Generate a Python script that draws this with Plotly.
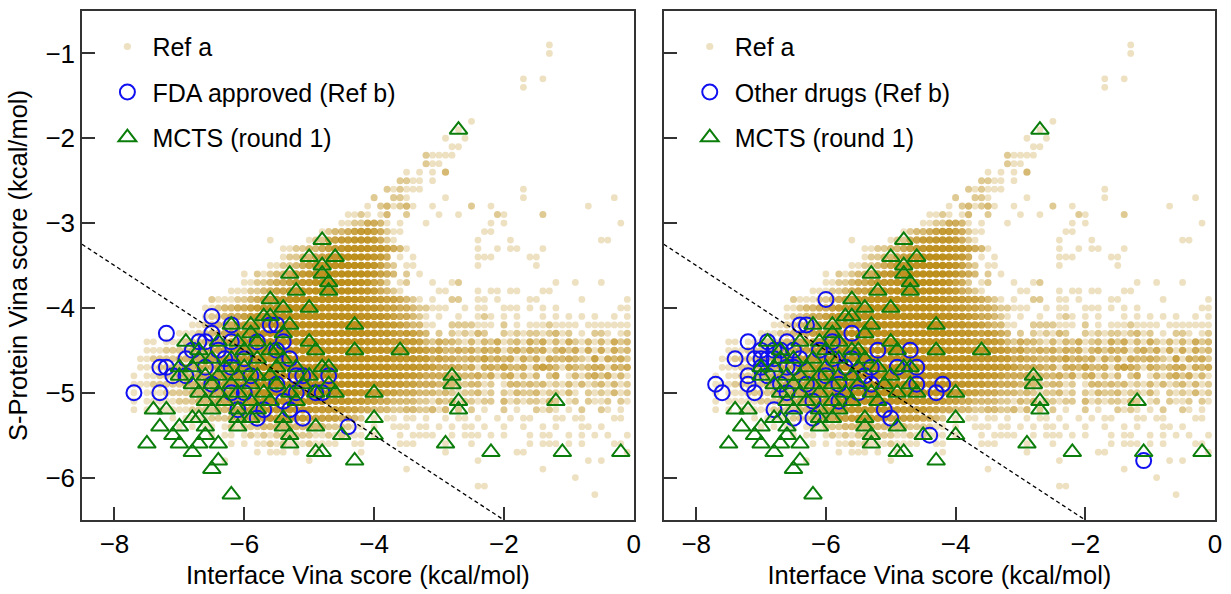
import plotly.graph_objects as go

# ---------------- data ----------------
# Ref a: number of overlapping points on the 0.1 x 0.1 grid.
# Each row string gives one character per x cell, starting at x = -8.5
# (groups of ten cells; '.' = no point, '9' = nine or more).
REF_A_X0 = -8.5
REF_A_STEP = 0.1
E = ".........."
REF_A_ROWS = {
    -0.9: [E, E, E, E, E, E, E, "..1.......", "....."],
    -1.0: [E, E, E, E, E, E, E, "..1.......", "....."],
    -1.3: [E, E, E, E, E, E, "........1.", ".1........", "....."],
    -1.4: [E, E, E, E, E, E, "........1.", E, "....."],
    -1.8: [E, E, E, E, E, E, "1.........", E, "....."],
    -1.9: [E, E, E, E, E, "........1.", E, E, "....."],
    -2.0: [E, E, E, E, E, "......1..1", E, E, "....."],
    -2.1: [E, E, E, E, E, ".......11.", E, E, "....."],
    -2.2: [E, E, E, E, E, "...21111..", E, E, "....."],
    -2.3: [E, E, E, E, E, "...211....", E, E, "....."],
    -2.4: [E, E, E, E, E, "1.1.1.3...", E, E, "....."],
    -2.5: [E, E, E, E, ".........2", "211.1.....", E, E, "....."],
    -2.6: [E, E, E, E, ".......212", "111.......", "........1.", E, "....."],
    -2.7: [E, E, E, E, ".....2..22", "1.....1...", "........1.", E, "..1.."],
    -2.8: [E, E, E, E, "....1.2312", "31..1.....", "2..1......", "........1.", "....."],
    -2.9: [E, E, E, E, ".1121.13..", "2....1..1.", "....21....", ".2........", "....."],
    -3.0: [E, E, E, E, "11224431.1", "...1......", "...1.1....", E, "...1."],
    -3.1: [E, E, E, ".......123", "3456654211", E, "..11......", E, "....."],
    -3.2: [E, E, ".........1", ".....12245", "667776421.", E, ".1....1...", E, "11..."],
    -3.3: [E, E, E, ".112233456", "7888877543", "1.........", ".1..1.11..", ".1........", "....."],
    -3.4: [E, E, E, ".122334567", "89998764.1", ".1........", ".111.....1", "1.........", "....."],
    -3.5: [E, E, ".........1", "1223456778", "999987532.", "11........", ".1........", "1.........", "....."],
    -3.6: [E, E, ".....1.212", "3345677889", "999987543.", "2.1.......", E, E, "....."],
    -3.7: [E, E, ".....11223", "4456778899", "99987542.1", "2...1..12.", E, "...1..1...", "1...."],
    -3.8: [E, E, "...1112234", "5567889999", "9998764321", ".....11...", ".1.11.11..", ".11.......", "....."],
    -3.9: [E, E, "2111223456", "6789999999", "9998776554", "321.1..22.", ".11.1....1", "1......1..", "....1"],
    -4.0: [E, ".........1", "1233445677", "8899999999", "9998776554", "4322111..1", ".11..111.1", ".1.1......", "...11"],
    -4.1: [E, ".........1", "2234456778", "8999999999", "9998877654", "4321.1..1.", ".121.1.1..", ".1.1.1.1.1", "..1.1"],
    -4.2: [E, ".......112", "2334566788", "9999999999", "9998877665", "43311..222", "2111.2.1.1", "1121111.11", "11111"],
    -4.3: [E, ".....11122", "3345667889", "9999999999", "9999887765", "6543.2.212", "132..21212", "212312.1.2", "21.12"],
    -4.4: [E, "11.1112223", "3455677889", "9999999999", "9999887766", "6653243321", "3132412314", "2413142131", "31423"],
    -4.5: [E, "1112222333", "4556677899", "9999999999", "9999988777", "7765453343", "4243413424", "3413424141", "41423"],
    -4.6: [".........1", "1222233344", "5566778899", "9999999999", "9999988877", "7766454433", "4353434142", "4143343215", "14342"],
    -4.7: [".........1", "1122233344", "4566778899", "9999999999", "9999988877", "7766544443", "4144353341", "4543143234", "41434"],
    -4.8: ["........1.", "1122233344", "4566778899", "9999999999", "9999887777", "6654444333", "3424134131", "3.24.13134", "24131"],
    -4.9: ["........11", "1222223334", "4456677889", "9999999999", "9998877766", "5544433322", "3312.13323", "2312131312", "31312"],
    -5.0: ["........1.", "1112222333", "4455667788", "9999999998", "8887766554", "4433323212", "2312.21322", "3122131.21", "21312"],
    -5.1: ["........1.", "1111122233", "3445566778", "8888888877", "7766554433", "3322132312", "2122.31212", "2132.12.21", "12.21"],
    -5.2: ["........1.", "1.11111222", "2334455667", "7777776666", "6554433322", "3322313.2.", "2.1..2.1..", "2121.1.2..", "21.1."],
    -5.3: [E, "....1.1111", "2223344556", "6666655555", "4432.1.11.", "11.1..1.11", ".1..1.1.11", "...11.11..", "..11."],
    -5.4: [E, ".....1.1.1", "1.12122233", "3333333322", "2211.1..11", "1.11.1.1.1", "1.1..1..1.", ".1.1...11.", "1...."],
    -5.5: [E, E, "1.11.12121", "2222221121", "2111.1...1", ".1111..1.1", "11.1.1...1", ".11..1.1.1", ".1..1"],
    -5.6: [E, E, "...1.1.112", "1211121111", "..11.....1", "11....1...", "1........1", ".111.1.1..", "..11."],
    -5.7: [E, E, ".......1.1", "11.1..1...", "...1......", "......1...", ".......11.", E, "....1"],
    -5.8: [E, E, "..1.......", ".....1....", E, E, ".1........", "........1.", "1...."],
    -5.9: [E, E, E, E, E, "1.........", E, ".1........", "....."],
    -6.0: [E, E, E, E, E, E, E, "......1...", "....."],
    -6.1: [E, E, E, E, E, E, ".11.......", E, "....."],
    -6.2: [E, E, E, E, E, E, E, ".........1", "....."],
}

MCTS_X = [
    -2.7, -4.8, -5.0, -4.8, -4.6, -4.8, -5.3, -4.7, -4.7, -5.2, -5.6, -5.4, -5.0,
    -5.7, -5.6, -6.2, -5.3, -5.9, -5.9, -5.4, -6.9, -6.4, -5.8, -5.0, -6.1, -4.9,
    -6.7, -6.0, -5.6, -5.5, -6.7, -6.5, -6.2, -5.8, -5.4, -7.0, -4.7, -6.8, -6.3,
    -6.0, -5.5, -5.2, -7.0, -6.6, -6.4, -6.1, -5.8, -5.6, -5.0, -6.8, -6.5, -6.2,
    -5.9, -5.5, -5.1, -4.7, -6.7, -6.4, -6.1, -5.7, -5.3, -4.9, -6.6, -6.3, -5.9,
    -5.6, -5.2, -6.5, -6.1, -5.8, -6.8, -6.7, -6.1, -5.9, -5.4, -7.0, -6.6, -6.1,
    -5.4, -7.4, -7.2, -7.3, -7.5, -7.1, -7.0, -6.8, -6.7, -6.6, -6.4, -6.4, -6.5,
    -6.2, -5.3, -5.3, -4.9, -4.8, -4.9, -4.5, -4.6, -4.3, -4.3, -4.3, -3.6, -4.0,
    -4.0, -4.0, -2.9, -2.8, -2.8, -2.7, -2.7, -2.2, -1.2, -1.1, -0.2, -4.8,
]
MCTS_Y = [
    -1.9, -3.2, -3.4, -3.5, -3.4, -3.6, -3.6, -3.7, -3.8, -3.8, -3.9, -4.0, -4.0,
    -4.1, -4.1, -4.2, -4.2, -4.2, -4.3, -4.3, -4.4, -4.4, -4.4, -4.4, -4.4, -4.5,
    -4.5, -4.5, -4.5, -4.5, -4.6, -4.6, -4.6, -4.6, -4.6, -4.7, -4.7, -4.7, -4.7,
    -4.7, -4.7, -4.7, -4.8, -4.8, -4.8, -4.8, -4.8, -4.8, -4.8, -4.9, -4.9, -4.9,
    -4.9, -4.9, -4.9, -4.9, -5.0, -5.0, -5.0, -5.0, -5.0, -5.0, -5.1, -5.1, -5.1,
    -5.1, -5.1, -5.2, -5.2, -5.2, -5.3, -5.3, -5.3, -5.3, -5.3, -5.4, -5.4, -5.4,
    -5.4, -5.2, -5.2, -5.4, -5.6, -5.5, -5.6, -5.7, -5.6, -5.5, -5.6, -5.8, -5.9,
    -6.2, -5.5, -5.6, -5.7, -5.7, -5.4, -5.5, -5.0, -5.8, -4.2, -4.5, -4.5, -5.0,
    -5.3, -5.5, -5.6, -4.8, -4.9, -5.1, -5.2, -5.7, -5.1, -5.7, -5.7, -4.7,
]

FDA_X = [
    -7.7, -7.3, -7.2, -7.3, -7.2, -7.1, -6.9, -6.8, -6.7, -6.6, -6.5, -6.5, -6.2,
    -6.2, -6.4, -6.3, -6.2, -5.8, -5.6, -5.5, -5.4, -5.5, -5.3, -5.1, -5.2, -5.3,
    -5.1, -4.7, -4.9, -4.8, -4.4, -5.7, -5.8, -6.0, -6.2, -6.0, -6.6, -6.9, -6.5,
    -5.9, -5.5, -5.2, -5.4, -6.1,
]
FDA_Y = [
    -5.0, -5.0, -4.3, -4.7, -4.7, -4.8, -4.6, -4.5, -4.4, -4.4, -4.1, -4.3, -4.2,
    -4.4, -4.5, -4.6, -4.7, -4.4, -4.2, -4.2, -4.4, -4.5, -4.6, -4.8, -5.0, -5.2,
    -5.3, -4.8, -5.0, -5.0, -5.4, -5.2, -5.3, -5.0, -5.0, -4.6, -4.7, -4.8, -4.9,
    -4.8, -4.9, -4.8, -5.1, -5.2,
]

OTHER_X = [
    -6.0, -6.4, -6.3, -7.2, -7.4, -6.9, -6.6, -7.2, -7.2, -7.7, -7.6, -7.1, -7.0,
    -6.9, -6.8, -7.0, -6.8, -7.0, -5.6, -5.2, -4.7, -4.9, -4.6, -5.3, -5.3, -4.6,
    -4.3, -5.0, -5.1, -4.4, -6.8, -6.5, -6.2, -5.8, -5.5, -4.2, -1.1, -6.6, -6.4,
    -6.7, -6.3, -6.0, -5.7, -6.1, -5.9, -6.5, -6.6, -6.2, -5.9, -5.6, -5.8, -5.4,
    -7.1, -6.9, -6.7, -6.5,
]
OTHER_Y = [
    -3.9, -4.2, -4.2, -4.4, -4.6, -4.4, -4.4, -4.8, -4.9, -4.9, -5.0, -5.0, -4.6,
    -4.6, -4.6, -4.7, -4.5, -4.5, -4.3, -4.5, -4.5, -4.7, -4.7, -4.7, -4.9, -4.9,
    -5.0, -5.3, -5.2, -5.5, -5.2, -5.3, -5.3, -5.1, -5.0, -4.9, -5.8, -4.7, -4.6,
    -4.9, -4.9, -4.8, -4.7, -4.5, -4.6, -4.5, -5.0, -5.1, -4.4, -4.6, -4.9, -4.8,
    -4.6, -4.8, -4.5, -4.7,
]

CUTOFF_X = [-8.5, -2.0]
CUTOFF_Y = [-3.25, -6.5]

X_TICKS = [-8, -6, -4, -2, 0]
Y_TICKS = [-6, -5, -4, -3, -2, -1]
X_TITLE = "Interface Vina score (kcal/mol)"
Y_TITLE = "S-Protein Vina score (kcal/mol)"

# ---------------- build ----------------
# one marker per occupied cell; its opacity is that of n stacked dots of alpha 0.25
DOT_ALPHA = 0.25
ref_x, ref_y, ref_col, ref_size = [], [], [], []
for yv, groups in REF_A_ROWS.items():
    row = "".join(groups)
    for i, ch in enumerate(row):
        if ch.isdigit():
            n = int(ch)
            a = 1 - (1 - DOT_ALPHA) ** n
            ref_x.append(round(REF_A_X0 + i * REF_A_STEP, 1))
            ref_y.append(yv)
            ref_col.append(f"rgba(184,134,11,{a:.3f})")
            ref_size.append(6.5 + 1.2 * a)

BLUE = "#1010f0"
GREEN = "#0a7d0a"
TEXT_FONT = "Liberation Sans, Arial, sans-serif"

fig = go.Figure()


def add_panel(xa, ya, leg, drug_x, drug_y, drug_name):
    fig.add_trace(go.Scatter(
        x=ref_x, y=ref_y, mode="markers", name="Ref a", xaxis=xa, yaxis=ya,
        legend=leg, legendgroup=leg + "a",
        marker=dict(size=ref_size, color=ref_col, opacity=1, line=dict(width=0)),
        hoverinfo="skip"))
    fig.add_trace(go.Scatter(
        x=drug_x, y=drug_y, mode="markers", name=drug_name, xaxis=xa, yaxis=ya,
        legend=leg, legendgroup=leg + "b",
        marker=dict(symbol="circle-open", size=15, color=BLUE, opacity=1,
                    line=dict(width=2, color=BLUE))))
    fig.add_trace(go.Scatter(
        x=MCTS_X, y=MCTS_Y, mode="markers", name="MCTS (round 1)", xaxis=xa, yaxis=ya,
        legend=leg, legendgroup=leg + "c",
        marker=dict(symbol="triangle-up-open", size=15.5, color=GREEN, opacity=1,
                    line=dict(width=2, color=GREEN))))
    fig.add_trace(go.Scatter(
        x=CUTOFF_X, y=CUTOFF_Y, mode="lines", xaxis=xa, yaxis=ya, showlegend=False,
        line=dict(color="black", width=1.3, dash="4px,3px"), hoverinfo="skip"))


add_panel("x", "y", "legend", FDA_X, FDA_Y, "FDA approved (Ref b)")
add_panel("x2", "y2", "legend2", OTHER_X, OTHER_Y, "Other drugs (Ref b)")

axis_common = dict(
    showgrid=False, zeroline=False, showline=True, mirror=True,
    linecolor="#333333", linewidth=1.5, ticks="inside", ticklen=13,
    tickwidth=1.5, tickcolor="#333333",
    tickfont=dict(family=TEXT_FONT, size=26, color="black"),
)
title_font = dict(family=TEXT_FONT, size=25.5, color="black")
legend_common = dict(
    xanchor="left", yanchor="top",
    font=dict(family=TEXT_FONT, size=25, color="black"),
    bgcolor="rgba(0,0,0,0)", tracegroupgap=10, itemwidth=40,
    traceorder="grouped",
)

fig.update_layout(
    width=1231, height=594,
    margin=dict(l=82, r=12, t=9, b=73),
    paper_bgcolor="white", plot_bgcolor="white",
    xaxis=dict(domain=[0, 0.487], range=[-8.5, 0], tickvals=X_TICKS,
               title=dict(text=X_TITLE, font=title_font, standoff=8),
               anchor="y", **axis_common),
    yaxis=dict(domain=[0, 1], range=[-6.5, -0.5], tickvals=Y_TICKS,
               title=dict(text=Y_TITLE, font=title_font, standoff=10),
               anchor="x", **axis_common),
    xaxis2=dict(domain=[0.5135, 1], range=[-8.5, 0], tickvals=X_TICKS,
                title=dict(text=X_TITLE, font=title_font, standoff=8),
                anchor="y2", **axis_common),
    yaxis2=dict(domain=[0, 1], range=[-6.5, -0.5], tickvals=Y_TICKS,
                showticklabels=False, anchor="x2", **axis_common),
    legend=dict(x=0.018, y=0.975, **legend_common),
    legend2=dict(x=0.532, y=0.975, **legend_common),
    showlegend=True,
)

fig.write_html("out.html")
